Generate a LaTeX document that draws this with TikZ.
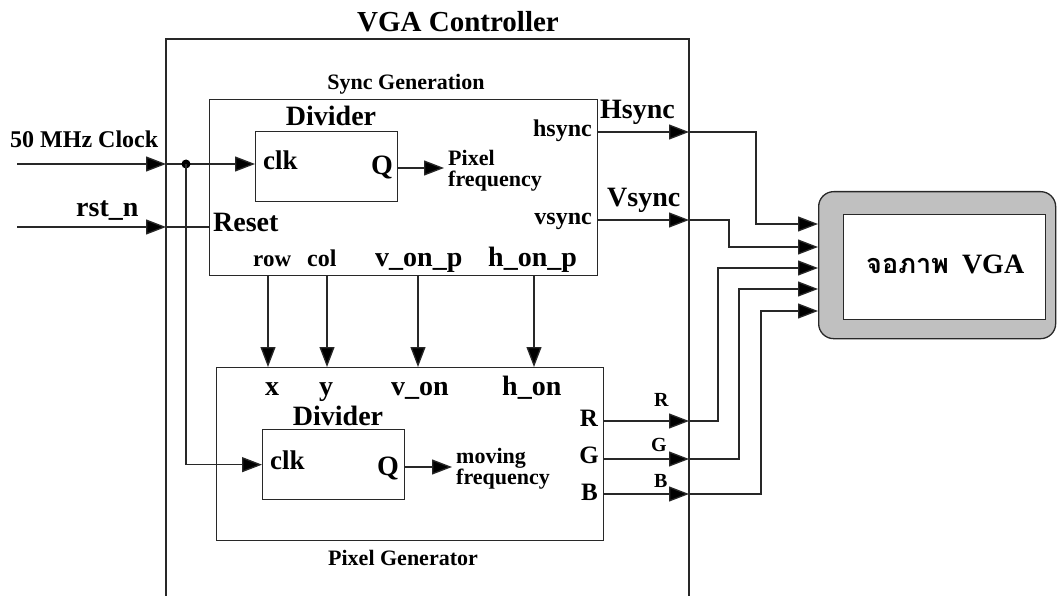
\documentclass[tikz,border=0pt]{standalone}
\usepackage{fontspec}
\setmainfont{Liberation Serif}
\newfontfamily\thaifont[Script=Thai]{Loma}
\usetikzlibrary{arrows.meta}
\newcommand\sz[1]{\fontsize{#1}{#1}\selectfont\bfseries}
\definecolor{scrgray}{RGB}{192,192,192}
\definecolor{ln}{RGB}{40,40,40}
\begin{document}
\begin{tikzpicture}[x=1pt,y=-1pt,
  wire/.style={line width=1.3pt, draw=ln},
  sig/.style={wire, -{Triangle[length=20pt,width=15pt,fill=black]}},
  box/.style={draw=ln, line width=1.3pt, anchor=north west, inner sep=0pt},
  lbl/.style={inner sep=0pt, text=black}]
\useasboundingbox (0,0) rectangle (1057,596);

% outer VGA controller frame (open at bottom)
\coordinate (obl) at (166,596);
\coordinate (otl) at (166,39);
\coordinate (otr) at (689,39);
\coordinate (obr) at (689,596);
\draw[wire] (obl) -- (otl) -- (otr) -- (obr);
\node[lbl, anchor=base, font=\sz{29}] (title) at (458,32) {VGA Controller};

% Sync generation block
\node[box, minimum width=388pt, minimum height=176pt] (sync) at (209,99) {};
\node[lbl, anchor=base, font=\sz{22}] (synclbl) at (406,90) {Sync Generation};
\node[box, minimum width=142pt, minimum height=70pt] (divA) at (255,131) {};
\node[lbl, anchor=base, font=\sz{28}] (divAl) at (331,126) {Divider};
\node[lbl, anchor=base west, font=\sz{27}] (clkA) at (263,170) {clk};
\node[lbl, anchor=base east, font=\sz{28}] (qA) at (393,175) {Q};
\node[lbl, anchor=base west, font=\sz{22}] (pfA) at (448,166) {Pixel};
\node[lbl, anchor=base west, font=\sz{22}] (pfB) at (448,187) {frequency};
\node[lbl, anchor=base east, font=\sz{24}] (hsl) at (592,137) {hsync};
\node[lbl, anchor=base east, font=\sz{24}] (vsl) at (592,225) {vsync};
\node[lbl, anchor=base west, font=\sz{28}] (rstl) at (213,232) {Reset};
\node[lbl, anchor=base west, font=\sz{23}] (rowl) at (253,266) {row};
\node[lbl, anchor=base west, font=\sz{24}] (coll) at (307,266) {col};
\node[lbl, anchor=base west, font=\sz{28}] (vonpl) at (375,266) {v\_on\_p};
\node[lbl, anchor=base west, font=\sz{28}] (honpl) at (488,266) {h\_on\_p};

% Pixel generator block
\node[box, minimum width=387pt, minimum height=173pt] (pix) at (216,367) {};
\node[lbl, anchor=base, font=\sz{22}] (pixlbl) at (403,565) {Pixel Generator};
\node[box, minimum width=142pt, minimum height=70pt] (divB) at (262,429) {};
\node[lbl, anchor=base, font=\sz{28}] (divBl) at (338,425) {Divider};
\node[lbl, anchor=base west, font=\sz{27}] (clkB) at (270,469) {clk};
\node[lbl, anchor=base east, font=\sz{28}] (qB) at (399,475) {Q};
\node[lbl, anchor=base west, font=\sz{22}] (mfA) at (456,463) {moving};
\node[lbl, anchor=base west, font=\sz{22}] (mfB) at (456,484) {frequency};
\node[lbl, anchor=base west, font=\sz{28}] (xl) at (265,395) {x};
\node[lbl, anchor=base west, font=\sz{28}] (yl) at (319,395) {y};
\node[lbl, anchor=base west, font=\sz{28}] (vonl) at (391,395) {v\_on};
\node[lbl, anchor=base west, font=\sz{28}] (honl) at (502,395) {h\_on};
\node[lbl, anchor=base east, font=\sz{25}] (rl) at (598,426) {R};
\node[lbl, anchor=base east, font=\sz{25}] (gl) at (599,463) {G};
\node[lbl, anchor=base east, font=\sz{25}] (bl) at (598,500) {B};

% external labels
\node[lbl, anchor=base west, font=\sz{24}] (clklbl) at (10,148) {50 MHz Clock};
\node[lbl, anchor=base west, font=\sz{28}] (rstlbl) at (76,217) {rst\_n};
\node[lbl, anchor=base west, font=\sz{28}] (Hsl) at (600,119) {Hsync};
\node[lbl, anchor=base west, font=\sz{28}] (Vsl) at (607,207) {Vsync};
\node[lbl, anchor=base west, font=\sz{20}] (Rl) at (654,406) {R};
\node[lbl, anchor=base west, font=\sz{20}] (Gl) at (651,451) {G};
\node[lbl, anchor=base west, font=\sz{20}] (Bl) at (654,487) {B};

% VGA screen
\node[box, rounded corners=15pt, fill=scrgray, minimum width=237pt, minimum height=147pt] (screen) at (818,191) {};
\node[box, fill=white, minimum width=202pt, minimum height=105pt] (scrin) at (843,214) {};
\node[lbl, anchor=base west, font=\sz{28}] (scrtxt) at (866,273) {{\thaifont\fontsize{27}{27}\selectfont จอภาพ}\hspace{13pt}VGA};

% clock and reset
\coordinate (clkin) at (17,164);
\coordinate (clkb) at (166,164);
\coordinate (dot) at (186,164);
\coordinate (rstin) at (17,227);
\coordinate (rstb) at (166,227);
\draw[sig] (clkin) -- (clkb);
\draw[sig] (clkb) -- (clkb -| divA.west);
\fill[black] (dot) circle (4.5pt);
\draw[sig] (dot) |- (divB.west);
\draw[sig] (rstin) -- (rstb);
\draw[wire] (rstb) -- (rstb -| sync.west);

% divider outputs
\coordinate (qAo) at (397,168);
\coordinate (qAt) at (444,168);
\coordinate (qBo) at (404,467);
\coordinate (qBt) at (452,467);
\draw[sig] (qAo) -- (qAt);
\draw[sig] (qBo) -- (qBt);

% sync -> pixel
\coordinate (rowo) at (268,275);
\coordinate (colo) at (327,275);
\coordinate (vono) at (418,275);
\coordinate (hono) at (534,275);
\draw[sig] (rowo) -- (rowo |- pix.north);
\draw[sig] (colo) -- (colo |- pix.north);
\draw[sig] (vono) -- (vono |- pix.north);
\draw[sig] (hono) -- (hono |- pix.north);

% outputs to screen
\coordinate (hs) at (597,132);  \coordinate (hsb) at (689,132); \coordinate (hsc) at (756,224);
\coordinate (vs) at (597,220);  \coordinate (vsb) at (689,220); \coordinate (vsc) at (729,247);
\coordinate (rs) at (603,421);  \coordinate (rb) at (689,421);  \coordinate (rc) at (718,268);
\coordinate (gs) at (603,459);  \coordinate (gb) at (689,459);  \coordinate (gc) at (739,289);
\coordinate (bs) at (603,494);  \coordinate (bb) at (689,494);  \coordinate (bc) at (761,311);
\draw[sig] (hs) -- (hsb);
\draw[sig] (hsb) -| (hsc) -- (hsc -| screen.west);
\draw[sig] (vs) -- (vsb);
\draw[sig] (vsb) -| (vsc) -- (vsc -| screen.west);
\draw[sig] (rs) -- (rb);
\draw[sig] (rb) -| (rc) -- (rc -| screen.west);
\draw[sig] (gs) -- (gb);
\draw[sig] (gb) -| (gc) -- (gc -| screen.west);
\draw[sig] (bs) -- (bb);
\draw[sig] (bb) -| (bc) -- (bc -| screen.west);
\end{tikzpicture}
\end{document}
